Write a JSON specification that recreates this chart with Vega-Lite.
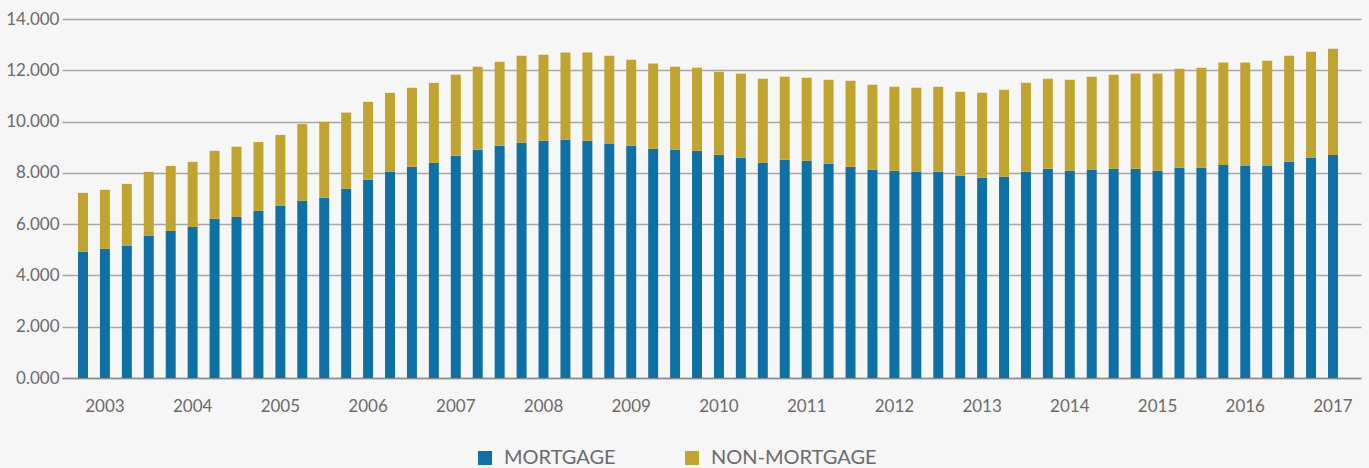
{
  "$schema": "https://vega.github.io/schema/vega-lite/v6.json",
  "width": 1299,
  "height": 359,
  "autosize": "none",
  "padding": {"left": 62, "top": 19, "right": 8, "bottom": 90},
  "background": "#f6f6f6",
  "config": {
    "view": {"stroke": null},
    "font": "Lato",
    "axis": {"labelFont": "Lato", "labelColor": "#6b6b6b"},
    "legend": {"labelFont": "Lato", "labelColor": "#6b6b6b"}
  },
  "data": {
    "values": [
      {"q": "2003 Q1", "MORTGAGE": 4.92, "NON-MORTGAGE": 2.30},
      {"q": "2003 Q2", "MORTGAGE": 5.04, "NON-MORTGAGE": 2.30},
      {"q": "2003 Q3", "MORTGAGE": 5.15, "NON-MORTGAGE": 2.42},
      {"q": "2003 Q4", "MORTGAGE": 5.54, "NON-MORTGAGE": 2.50},
      {"q": "2004 Q1", "MORTGAGE": 5.74, "NON-MORTGAGE": 2.53},
      {"q": "2004 Q2", "MORTGAGE": 5.89, "NON-MORTGAGE": 2.54},
      {"q": "2004 Q3", "MORTGAGE": 6.21, "NON-MORTGAGE": 2.65},
      {"q": "2004 Q4", "MORTGAGE": 6.28, "NON-MORTGAGE": 2.74},
      {"q": "2005 Q1", "MORTGAGE": 6.52, "NON-MORTGAGE": 2.68},
      {"q": "2005 Q2", "MORTGAGE": 6.71, "NON-MORTGAGE": 2.77},
      {"q": "2005 Q3", "MORTGAGE": 6.91, "NON-MORTGAGE": 3.00},
      {"q": "2005 Q4", "MORTGAGE": 7.03, "NON-MORTGAGE": 2.96},
      {"q": "2006 Q1", "MORTGAGE": 7.38, "NON-MORTGAGE": 2.97},
      {"q": "2006 Q2", "MORTGAGE": 7.73, "NON-MORTGAGE": 3.04},
      {"q": "2006 Q3", "MORTGAGE": 8.04, "NON-MORTGAGE": 3.08},
      {"q": "2006 Q4", "MORTGAGE": 8.24, "NON-MORTGAGE": 3.08},
      {"q": "2007 Q1", "MORTGAGE": 8.39, "NON-MORTGAGE": 3.12},
      {"q": "2007 Q2", "MORTGAGE": 8.67, "NON-MORTGAGE": 3.16},
      {"q": "2007 Q3", "MORTGAGE": 8.90, "NON-MORTGAGE": 3.24},
      {"q": "2007 Q4", "MORTGAGE": 9.06, "NON-MORTGAGE": 3.27},
      {"q": "2008 Q1", "MORTGAGE": 9.17, "NON-MORTGAGE": 3.40},
      {"q": "2008 Q2", "MORTGAGE": 9.25, "NON-MORTGAGE": 3.36},
      {"q": "2008 Q3", "MORTGAGE": 9.29, "NON-MORTGAGE": 3.40},
      {"q": "2008 Q4", "MORTGAGE": 9.25, "NON-MORTGAGE": 3.44},
      {"q": "2009 Q1", "MORTGAGE": 9.13, "NON-MORTGAGE": 3.44},
      {"q": "2009 Q2", "MORTGAGE": 9.06, "NON-MORTGAGE": 3.35},
      {"q": "2009 Q3", "MORTGAGE": 8.94, "NON-MORTGAGE": 3.32},
      {"q": "2009 Q4", "MORTGAGE": 8.90, "NON-MORTGAGE": 3.24},
      {"q": "2010 Q1", "MORTGAGE": 8.86, "NON-MORTGAGE": 3.24},
      {"q": "2010 Q2", "MORTGAGE": 8.70, "NON-MORTGAGE": 3.24},
      {"q": "2010 Q3", "MORTGAGE": 8.59, "NON-MORTGAGE": 3.28},
      {"q": "2010 Q4", "MORTGAGE": 8.39, "NON-MORTGAGE": 3.28},
      {"q": "2011 Q1", "MORTGAGE": 8.51, "NON-MORTGAGE": 3.24},
      {"q": "2011 Q2", "MORTGAGE": 8.47, "NON-MORTGAGE": 3.24},
      {"q": "2011 Q3", "MORTGAGE": 8.35, "NON-MORTGAGE": 3.28},
      {"q": "2011 Q4", "MORTGAGE": 8.24, "NON-MORTGAGE": 3.35},
      {"q": "2012 Q1", "MORTGAGE": 8.12, "NON-MORTGAGE": 3.32},
      {"q": "2012 Q2", "MORTGAGE": 8.08, "NON-MORTGAGE": 3.28},
      {"q": "2012 Q3", "MORTGAGE": 8.04, "NON-MORTGAGE": 3.28},
      {"q": "2012 Q4", "MORTGAGE": 8.04, "NON-MORTGAGE": 3.32},
      {"q": "2013 Q1", "MORTGAGE": 7.88, "NON-MORTGAGE": 3.28},
      {"q": "2013 Q2", "MORTGAGE": 7.81, "NON-MORTGAGE": 3.31},
      {"q": "2013 Q3", "MORTGAGE": 7.85, "NON-MORTGAGE": 3.39},
      {"q": "2013 Q4", "MORTGAGE": 8.04, "NON-MORTGAGE": 3.47},
      {"q": "2014 Q1", "MORTGAGE": 8.16, "NON-MORTGAGE": 3.51},
      {"q": "2014 Q2", "MORTGAGE": 8.08, "NON-MORTGAGE": 3.55},
      {"q": "2014 Q3", "MORTGAGE": 8.12, "NON-MORTGAGE": 3.63},
      {"q": "2014 Q4", "MORTGAGE": 8.16, "NON-MORTGAGE": 3.67},
      {"q": "2015 Q1", "MORTGAGE": 8.16, "NON-MORTGAGE": 3.71},
      {"q": "2015 Q2", "MORTGAGE": 8.08, "NON-MORTGAGE": 3.79},
      {"q": "2015 Q3", "MORTGAGE": 8.20, "NON-MORTGAGE": 3.86},
      {"q": "2015 Q4", "MORTGAGE": 8.20, "NON-MORTGAGE": 3.90},
      {"q": "2016 Q1", "MORTGAGE": 8.31, "NON-MORTGAGE": 3.99},
      {"q": "2016 Q2", "MORTGAGE": 8.27, "NON-MORTGAGE": 4.03},
      {"q": "2016 Q3", "MORTGAGE": 8.27, "NON-MORTGAGE": 4.10},
      {"q": "2016 Q4", "MORTGAGE": 8.43, "NON-MORTGAGE": 4.14},
      {"q": "2017 Q1", "MORTGAGE": 8.59, "NON-MORTGAGE": 4.13},
      {"q": "2017 Q2", "MORTGAGE": 8.70, "NON-MORTGAGE": 4.14}
    ]
  },
  "transform": [
    {"fold": ["MORTGAGE", "NON-MORTGAGE"], "as": ["type", "value"]}
  ],
  "mark": {"type": "bar"},
  "encoding": {
    "x": {
      "field": "q",
      "type": "ordinal",
      "sort": null,
      "scale": {"paddingInner": 0.545, "paddingOuter": 0.89, "align": 0.41},
      "axis": {
        "title": null,
        "labelAngle": 0,
        "labelExpr": "indexof(datum.value, 'Q2') > 0 ? slice(datum.value, 0, 4) : ''",
        "labelDx": 11,
        "labelFontSize": 17,
        "labelPadding": 20,
        "ticks": false,
        "domainColor": "#8c8c8c",
        "domainWidth": 1.5,
        "labelOverlap": false
      }
    },
    "y": {
      "field": "value",
      "type": "quantitative",
      "stack": "zero",
      "scale": {"domain": [0, 14], "nice": false},
      "axis": {
        "title": null,
        "values": [0, 2, 4, 6, 8, 10, 12, 14],
        "format": ".3f",
        "labelFontSize": 17,
        "labelPadding": 3,
        "ticks": false,
        "domain": false,
        "gridColor": "#a6a6a6",
        "gridWidth": 1.5
      }
    },
    "color": {
      "field": "type",
      "type": "nominal",
      "scale": {"domain": ["MORTGAGE", "NON-MORTGAGE"], "range": ["#0f70a6", "#c1a330"]},
      "legend": {
        "title": null,
        "orient": "none",
        "direction": "horizontal",
        "legendX": 413,
        "legendY": 429,
        "symbolType": "square",
        "symbolSize": 196,
        "symbolStrokeWidth": 0,
        "labelFontSize": 20,
        "labelLimit": 400,
        "labelOffset": 9,
        "columnPadding": 66
      }
    },
    "order": {"field": "type", "sort": "ascending"}
  }
}
